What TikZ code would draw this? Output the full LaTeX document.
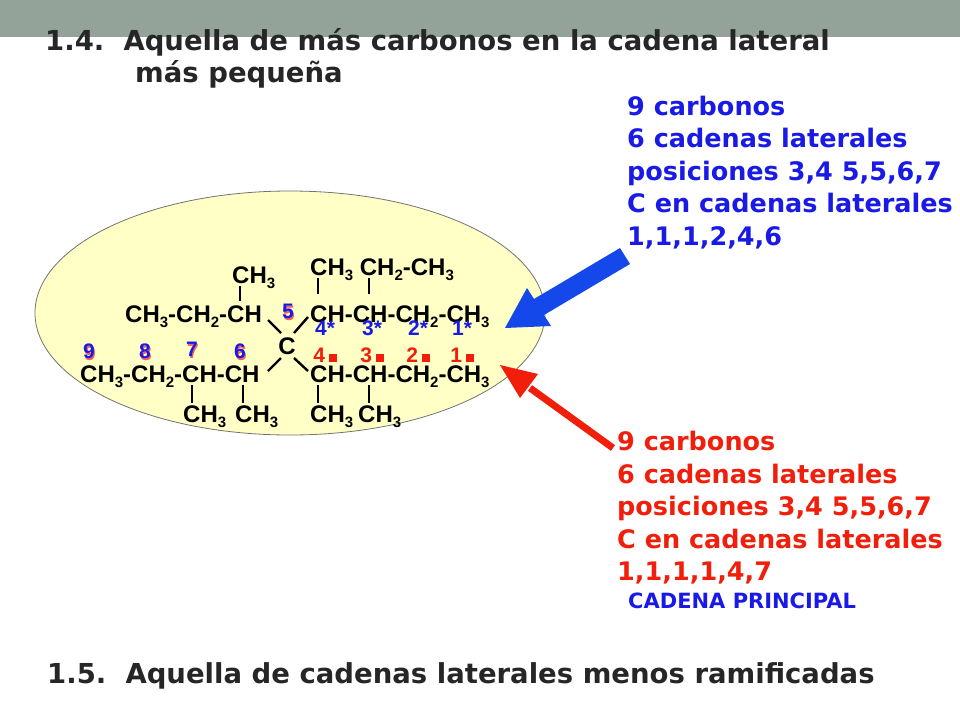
\documentclass[tikz,border=0pt]{standalone}
\usepackage{fontspec}
\usetikzlibrary{shapes.geometric}
\setmainfont{DejaVu Sans}
\newfontfamily\arialb{Liberation Sans}[BoldFont=* Bold]
\newcommand\sbs[1]{\raisebox{-0.45ex}{\fontsize{15}{15}\selectfont #1}}
\definecolor{bandgray}{HTML}{94A39A}
\definecolor{ellfill}{HTML}{FFFFC6}
\definecolor{myblue}{HTML}{1A1AE6}
\definecolor{myred}{HTML}{F01E0A}
\tikzset{
 mol/.style={anchor=base west,inner sep=0pt,font=\arialb\bfseries\fontsize{24}{24}\selectfont},
 bond/.style={line width=2.4pt},
 num/.style={inner sep=0pt,font=\arialb\bfseries\fontsize{21}{21}\selectfont},
 lab/.style={anchor=base west,inner sep=0pt,font=\bfseries\fontsize{25.5}{25.5}\selectfont},
 ttl/.style={anchor=base west,inner sep=0pt,font=\bfseries\fontsize{27.5}{27.5}\selectfont,text=black!85},
}
\begin{document}
\begin{tikzpicture}[x=1pt,y=-1pt]
\useasboundingbox (0,0) rectangle (960,720);
\fill[bandgray] (0,0) rectangle (960,37);
\node[ttl] (t1) at (45,50) {1.4.\ \ Aquella de más carbonos en la cadena lateral};
\node[ttl] (t2) at (135,82) {más pequeña};
\node[ttl] (t3) at (47,683) {1.5.\ \ Aquella de cadenas laterales menos ramificadas};
\node[draw=black!55,fill=ellfill,ellipse,minimum width=510,minimum height=244,line width=0.8pt] (ell) at (290,313) {};
% molecule
\node[mol] (a1) at (232,283) {CH\sbs3};
\node[mol] (a2) at (125,322) {CH\sbs3-CH\sbs2-CH};
\node[mol] (a3) at (310,275) {CH\sbs3 CH\sbs2-CH\sbs3};
\node[mol] (a4) at (310,322) {CH-CH-CH\sbs2-CH\sbs3};
\node[mol,anchor=center] (c) at (287,346) {C};
\node[mol] (a5) at (80,382) {CH\sbs3-CH\sbs2-CH-CH};
\node[mol] (a6) at (310,382) {CH-CH-CH\sbs2-CH\sbs3};
\node[mol] (a7) at (183,422) {CH\sbs3};
\node[mol] (a8) at (235,422) {CH\sbs3};
\node[mol] (a9) at (310,422) {CH\sbs3};
\node[mol] (a10) at (358,422) {CH\sbs3};
\draw[bond] (240,286) -- (240,301);
\draw[bond] (318,278) -- (318,294);
\draw[bond] (369,278) -- (369,294);
\draw[bond] (192,385) -- (192,403);
\draw[bond] (243,385) -- (243,403);
\draw[bond] (318,385) -- (318,403);
\draw[bond] (369,385) -- (369,403);
\draw[bond] (268,320) -- (281,333);
\draw[bond] (308,317) -- (294,333);
\draw[bond] (281,358) -- (268,371);
\draw[bond] (294,358) -- (308,371);
% numbers
\foreach \n/\x/\y in {9/89/351,8/145/351,7/192/349,6/240/351,5/288/311}{
 \node[num,text=myred!70] at (\x+1,\y+2) {\n};
 \node[num,text=myblue] (n\n) at (\x,\y) {\n};}
\foreach \n/\x in {4/325,3/372,2/418,1/462}{
 \node[num,text=myblue] (s\n) at (\x,328) {\n*};
 \node[num,text=myred] (r\n) at (\x,355) {\n\,\rule{8pt}{8pt}};}
% arrows
\fill[myblue!80!cyan] (630,264) -- (544,315) -- (551,326) -- (505,328) -- (527,288) -- (534,299) -- (620,248) -- cycle;
\draw[line width=7pt,myred] (613,448) -- (530,388);
\fill[myred] (500,365) -- (538,374) -- (520,398) -- cycle;
% labels
\begin{scope}[text=myblue]
\node[lab] (l1) at (627,115) {9 carbonos};
\node[lab] (l2) at (627,147) {6 cadenas laterales};
\node[lab] (l3) at (627,180) {posiciones 3,4 5,5,6,7};
\node[lab] (l4) at (627,212) {C en cadenas laterales};
\node[lab] (l5) at (627,245) {1,1,1,2,4,6};
\end{scope}
\begin{scope}[text=myred]
\node[lab] (m1) at (617,450) {9 carbonos};
\node[lab] (m2) at (617,483) {6 cadenas laterales};
\node[lab] (m3) at (617,515) {posiciones 3,4 5,5,6,7};
\node[lab] (m4) at (617,548) {C en cadenas laterales};
\node[lab] (m5) at (617,580) {1,1,1,1,4,7};
\end{scope}
\node[lab,text=myblue,font=\bfseries\fontsize{21}{21}\selectfont] (cp) at (628,608) {CADENA PRINCIPAL};
\end{tikzpicture}
\end{document}
